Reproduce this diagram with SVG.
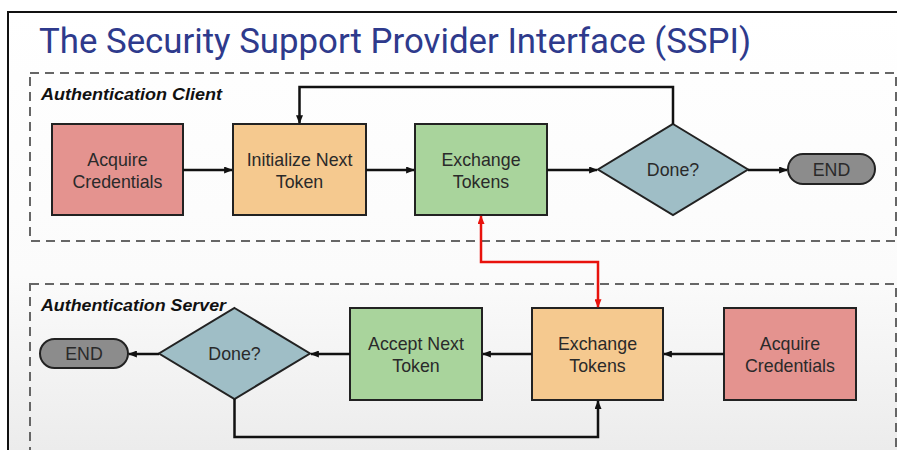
<svg xmlns="http://www.w3.org/2000/svg" width="897" height="450" viewBox="0 0 897 450">
  <defs>
    <linearGradient id="slideBg" x1="0" y1="0" x2="0" y2="1">
      <stop offset="0" stop-color="#ffffff"/>
      <stop offset="0.6" stop-color="#fbfbfb"/>
      <stop offset="1" stop-color="#ececec"/>
    </linearGradient>
    <marker id="arrow" viewBox="0 0 10 8" refX="9" refY="4" markerWidth="9" markerHeight="7" markerUnits="userSpaceOnUse" orient="auto">
      <path d="M0,0 L10,4 L0,8 z" fill="#111"/>
    </marker>
    <marker id="arrowRed" viewBox="0 0 10 8" refX="9" refY="4" markerWidth="9" markerHeight="7" markerUnits="userSpaceOnUse" orient="auto-start-reverse">
      <path d="M0,0 L10,4 L0,8 z" fill="#e8120c"/>
    </marker>
  </defs>
  <style>
    .frame { fill: none; stroke: #111; stroke-width: 2; }
    .lane { fill: none; stroke: #666; stroke-width: 2; stroke-dasharray: 9 6; }
    .lane-label { font-family: "Liberation Sans", Arial, sans-serif; font-size: 16px; font-weight: bold; font-style: italic; fill: #111; }
    .title { font-family: Roboto, "Liberation Sans", sans-serif; font-size: 35px; fill: #2e3a8c; }
    .box { stroke: #222; stroke-width: 2; }
    .red { fill: #e4938f; }
    .orange { fill: #f5c98f; }
    .green { fill: #a9d49c; }
    .teal { fill: #9fbec6; }
    .grey { fill: #8c8c8c; }
    .label { font-family: "Liberation Sans", Arial, sans-serif; font-size: 17.8px; fill: #2a2a2a; text-anchor: middle; }
    .conn { fill: none; stroke: #111; stroke-width: 2.5; marker-end: url(#arrow); }
    .conn-red { fill: none; stroke: #e8120c; stroke-width: 2.5; marker-start: url(#arrowRed); marker-end: url(#arrowRed); }
  </style>

  <!-- slide background and border -->
  <rect x="0" y="0" width="897" height="450" fill="#ffffff"/>
  <rect x="8" y="12" width="889" height="438" fill="url(#slideBg)"/>
  <path class="frame" d="M8,451 V12 H898"/>

  <text class="title" x="39" y="53" textLength="712" lengthAdjust="spacingAndGlyphs">The Security Support Provider Interface (SSPI)</text>

  <!-- swim lanes -->
  <g id="lane-client">
    <rect class="lane" x="30" y="73" width="866" height="168"/>
    <text class="lane-label" x="41" y="100" textLength="181" lengthAdjust="spacingAndGlyphs">Authentication Client</text>
  </g>
  <g id="lane-server">
    <rect class="lane" x="30" y="284" width="866" height="180"/>
    <text class="lane-label" x="41" y="311" textLength="185" lengthAdjust="spacingAndGlyphs">Authentication Server</text>
  </g>

  <!-- client nodes -->
  <g id="client-acquire">
    <rect class="box red" x="52" y="124" width="131" height="91"/>
    <text class="label" x="117.5" y="165.5">Acquire</text>
    <text class="label" x="117.5" y="187.5">Credentials</text>
  </g>
  <g id="client-init">
    <rect class="box orange" x="233" y="124" width="133" height="91"/>
    <text class="label" x="299.5" y="165.5">Initialize Next</text>
    <text class="label" x="299.5" y="187.5">Token</text>
  </g>
  <g id="client-exchange">
    <rect class="box green" x="415" y="124" width="132" height="91"/>
    <text class="label" x="481" y="165.5">Exchange</text>
    <text class="label" x="481" y="187.5">Tokens</text>
  </g>
  <g id="client-done">
    <polygon class="box teal" points="673,124 748,169.5 673,215 598,169.5"/>
    <text class="label" x="673" y="176">Done?</text>
  </g>
  <g id="client-end">
    <rect class="box grey" x="788" y="154" width="87" height="30" rx="15" ry="15"/>
    <text class="label" x="831.5" y="176">END</text>
  </g>

  <!-- server nodes -->
  <g id="server-end">
    <rect class="box grey" x="40" y="339" width="88" height="29" rx="14.5" ry="14.5"/>
    <text class="label" x="84" y="360">END</text>
  </g>
  <g id="server-done">
    <polygon class="box teal" points="234.5,308 310,353.5 234.5,399 159,353.5"/>
    <text class="label" x="234.5" y="360">Done?</text>
  </g>
  <g id="server-accept">
    <rect class="box green" x="350" y="308" width="132" height="92"/>
    <text class="label" x="416" y="350">Accept Next</text>
    <text class="label" x="416" y="372">Token</text>
  </g>
  <g id="server-exchange">
    <rect class="box orange" x="532" y="308" width="131" height="92"/>
    <text class="label" x="597.5" y="350">Exchange</text>
    <text class="label" x="597.5" y="372">Tokens</text>
  </g>
  <g id="server-acquire">
    <rect class="box red" x="724" y="308" width="132" height="92"/>
    <text class="label" x="790" y="350">Acquire</text>
    <text class="label" x="790" y="372">Credentials</text>
  </g>

  <!-- connectors -->
  <g id="connectors">
    <path class="conn" d="M183,170 H232"/>
    <path class="conn" d="M366,170 H414"/>
    <path class="conn" d="M547,170 H597"/>
    <path class="conn" d="M748,170 H787"/>
    <path class="conn" d="M673,124 V87 H299.5 V123"/>
    <path class="conn-red" d="M481,216 V262 H598 V307"/>
    <path class="conn" d="M724,354 H664"/>
    <path class="conn" d="M532,354 H483"/>
    <path class="conn" d="M350,354 H311"/>
    <path class="conn" d="M159,354 H129"/>
    <path class="conn" d="M234.5,399 V437 H598 V401"/>
  </g>
</svg>
